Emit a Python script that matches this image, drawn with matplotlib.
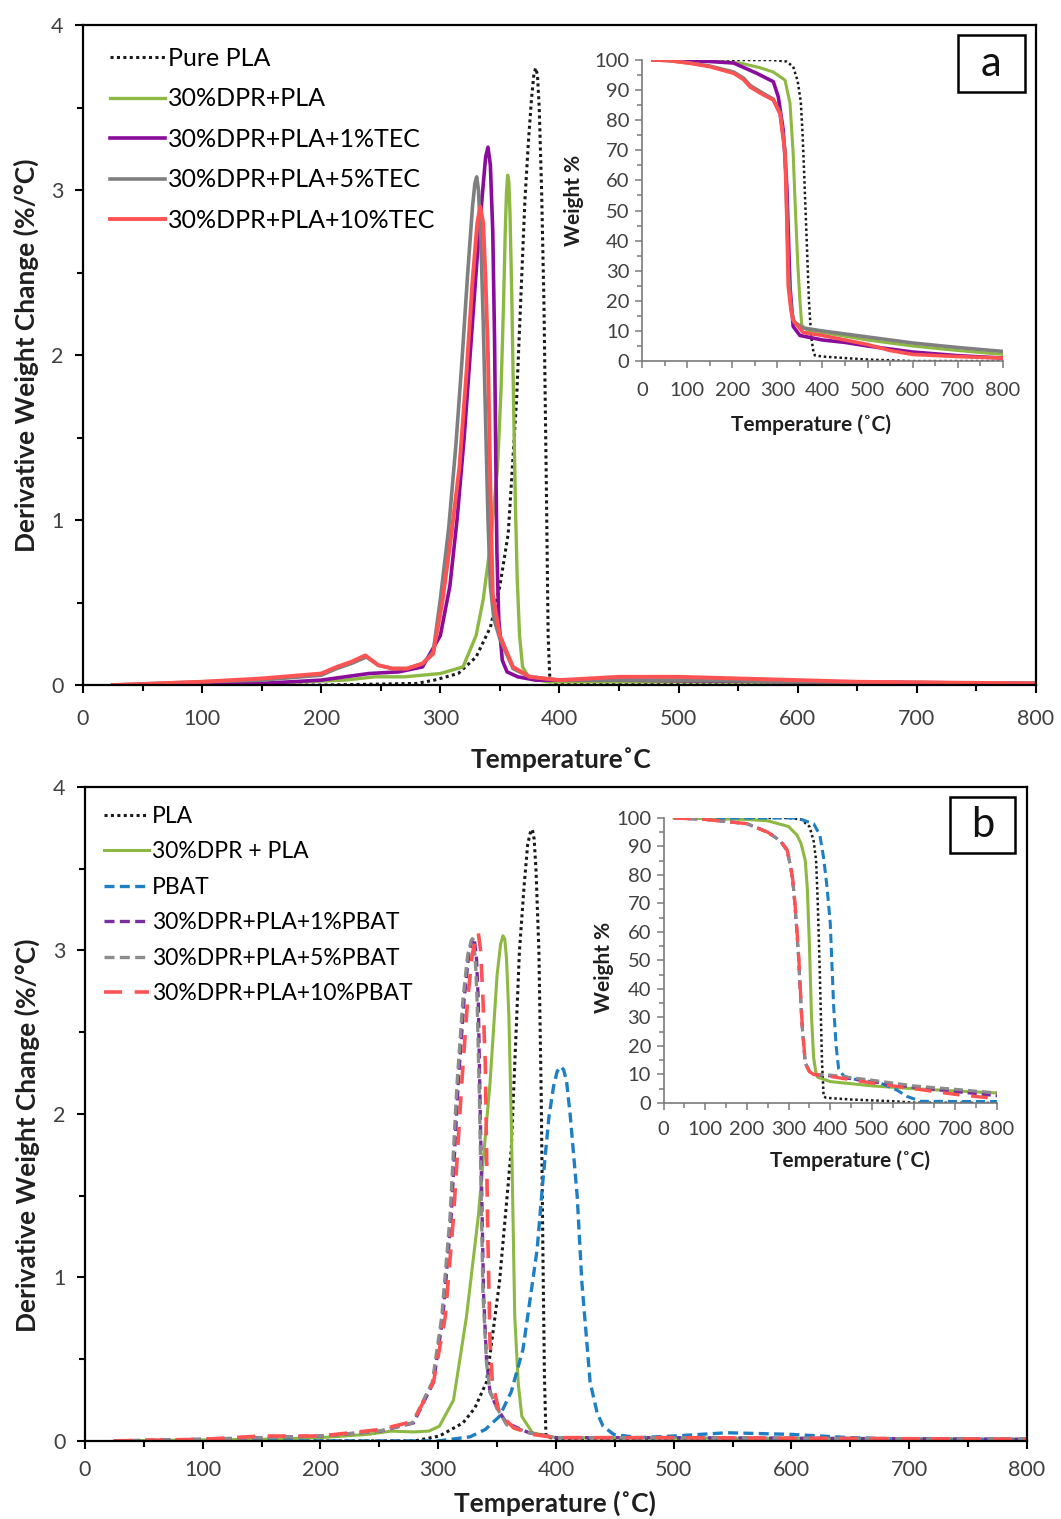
import matplotlib
matplotlib.use("Agg")
import matplotlib.pyplot as plt
from matplotlib.patches import Rectangle
from matplotlib.ticker import MultipleLocator

plt.rcParams['font.family'] = ['Lato', 'DejaVu Sans']

# ---------------- panel a : DTG (main) ----------------
pla_a_T = [25, 200, 280, 295, 315, 330, 342, 350, 357, 364, 371, 374, 376.5, 378.5, 380, 381.5, 383, 385, 387, 389, 390.5, 392, 400, 800]
pla_a_y = [0, 0, 0.01, 0.03, 0.07, 0.17, 0.35, 0.6, 0.92, 1.73, 2.94, 3.3, 3.55, 3.7, 3.74, 3.7, 3.5, 3.0, 2.3, 1.2, 0.3, 0.02, 0.01, 0.005]

green_a_T = [25, 150, 220, 245, 270, 300, 319, 330, 336, 342, 348, 351, 353, 354.5, 355.5, 356.5, 357.5, 358.5, 360, 361.5, 363, 364.5, 366.5, 369, 375, 390, 500, 800]
green_a_y = [0, 0.01, 0.03, 0.05, 0.05, 0.07, 0.11, 0.3, 0.52, 0.85, 1.32, 1.8, 2.3, 2.75, 2.98, 3.09, 3.05, 2.85, 2.35, 1.7, 1.1, 0.65, 0.3, 0.11, 0.04, 0.02, 0.02, 0.01]

purple_a_T = [25, 150, 200, 240, 265, 285, 300, 308, 314, 320, 326, 331, 335, 338, 340, 342, 344, 345.5, 346.5, 347.5, 349, 352, 356, 365, 380, 450, 600, 800]
purple_a_y = [0, 0.01, 0.03, 0.07, 0.08, 0.11, 0.3, 0.6, 1.0, 1.5, 2.1, 2.6, 2.95, 3.2, 3.26, 3.15, 2.75, 2.1, 1.4, 0.8, 0.4, 0.15, 0.08, 0.05, 0.03, 0.03, 0.02, 0.01]

gray_a_T = [25, 100, 150, 200, 213, 225, 238, 248, 260, 272, 285, 294, 300, 307, 313, 318, 323, 327, 329, 330.5, 332, 334, 336, 338, 340, 342, 345, 350, 361, 375, 400, 500, 600, 800]
gray_a_y = [0, 0.02, 0.03, 0.06, 0.1, 0.13, 0.17, 0.12, 0.1, 0.1, 0.13, 0.2, 0.52, 0.95, 1.45, 1.95, 2.5, 2.9, 3.04, 3.08, 3.0, 2.7, 2.2, 1.6, 1.0, 0.6, 0.4, 0.28, 0.1, 0.05, 0.03, 0.03, 0.02, 0.01]

red_a_T = [25, 100, 150, 200, 213, 225, 237, 248, 260, 272, 285, 294, 302, 309, 316, 322, 327, 331, 333.5, 336, 338, 340, 342, 344, 350, 361, 375, 400, 450, 500, 550, 600, 650, 800]
red_a_y = [0, 0.02, 0.04, 0.07, 0.11, 0.14, 0.18, 0.12, 0.1, 0.1, 0.13, 0.19, 0.52, 0.9, 1.32, 1.9, 2.45, 2.8, 2.9, 2.8, 2.45, 2.0, 1.2, 0.55, 0.3, 0.11, 0.05, 0.03, 0.05, 0.05, 0.04, 0.03, 0.02, 0.01]

# ---------------- panel a : TGA (inset) ----------------
pla_a_tga_T = [25, 290, 320, 335, 345, 352, 356, 360, 365, 370, 375, 380, 383, 400, 500, 600, 800]
pla_a_tga_w = [100, 100, 99.5, 97.8, 93, 86, 75, 60, 40, 20, 8, 3, 1.9, 1.5, 0.5, 0, 0]

green_a_tga_T = [25, 120, 217, 260, 291, 317, 328, 335, 340, 345, 350, 354, 360, 370, 400, 500, 600, 700, 800]
green_a_tga_w = [100, 100, 99, 97.5, 96, 93.3, 85.6, 69, 50, 33, 20, 12, 11, 10, 9.5, 7, 5, 3.5, 2.2]

purple_a_tga_T = [25, 100, 150, 203, 254, 291, 302, 313, 321, 328, 335, 350, 400, 450, 500, 600, 700, 800]
purple_a_tga_w = [100, 99.8, 99.5, 99, 95.6, 92.8, 87.8, 76.7, 57.9, 24.8, 11.5, 8.5, 7, 6.2, 5, 3, 1.8, 1]

gray_a_tga_T = [25, 60, 107, 150, 203, 225, 240, 262, 291, 306, 317, 321, 325, 331, 337, 357, 400, 500, 600, 700, 800]
gray_a_tga_w = [100, 99.8, 99, 98, 96, 94, 91.5, 89.5, 87, 82.5, 70, 50, 28, 17, 13, 11, 10, 8, 6, 4.5, 3.2]

red_a_tga_T = [25, 60, 107, 150, 203, 225, 240, 262, 291, 306, 317, 321, 324, 330, 335, 357, 400, 500, 550, 600, 700, 800]
red_a_tga_w = [100, 99.8, 98.9, 97.8, 95.6, 93.5, 91, 89, 86.7, 82, 69, 47, 25, 17, 13.5, 9.5, 8.5, 5.5, 3.5, 2.2, 1.5, 1]

# ---------------- panel b : DTG (main) ----------------
pla_b_T = [25, 280, 301, 321, 331, 341, 352, 362, 369, 373, 376, 378.5, 380, 381.5, 383, 385.5, 387.5, 389, 390.2, 391.5, 400, 800]
pla_b_y = [0, 0.0, 0.03, 0.11, 0.2, 0.36, 0.97, 1.78, 3.0, 3.4, 3.65, 3.73, 3.74, 3.68, 3.5, 3.0, 2.1, 1.1, 0.4, 0.03, 0.01, 0.005]

green_b_T = [25, 150, 200, 240, 260, 279, 292, 301, 313, 324, 334, 344, 350, 353, 355, 356.5, 358, 360, 362, 365, 368, 371, 380, 400, 800]
green_b_y = [0, 0.01, 0.02, 0.04, 0.06, 0.055, 0.06, 0.09, 0.25, 0.76, 1.37, 2.19, 2.85, 3.04, 3.09, 3.07, 2.95, 2.6, 1.98, 0.76, 0.35, 0.15, 0.05, 0.02, 0.01]

pbat_T = [25, 300, 327, 340, 352, 362, 372, 384, 389, 394, 398, 401, 404, 406.5, 409, 412, 418, 422, 429, 435, 440, 449, 470, 500, 545, 600, 650, 700, 800]
pbat_y = [0, 0.0, 0.025, 0.07, 0.15, 0.3, 0.56, 1.17, 1.6, 1.98, 2.17, 2.26, 2.29, 2.27, 2.2, 2.0, 1.5, 0.97, 0.36, 0.17, 0.09, 0.04, 0.02, 0.03, 0.05, 0.04, 0.02, 0.01, 0.01]

purple_b_T = [25, 100, 150, 200, 251, 279, 296, 304, 311, 317, 322, 326, 329, 330.5, 332.5, 334, 335.5, 337, 338.5, 341, 344, 350, 358, 377, 400, 500, 800]
purple_b_y = [0, 0.01, 0.02, 0.03, 0.06, 0.11, 0.36, 0.76, 1.37, 2.19, 2.7, 2.98, 3.07, 3.08, 2.95, 2.7, 2.09, 1.5, 0.9, 0.5, 0.3, 0.2, 0.11, 0.05, 0.02, 0.02, 0.01]

gray_b_T = [25, 100, 150, 200, 250, 278, 295, 303, 310, 316, 321, 325, 328, 329.5, 331.5, 333, 335, 336.5, 338, 341, 344, 350, 358, 377, 400, 500, 800]
gray_b_y = [0, 0.01, 0.02, 0.03, 0.06, 0.11, 0.36, 0.76, 1.37, 2.19, 2.7, 2.97, 3.06, 3.07, 2.95, 2.7, 2.09, 1.5, 0.9, 0.48, 0.3, 0.2, 0.1, 0.05, 0.02, 0.02, 0.01]

red_b_T = [25, 100, 150, 200, 251, 279, 296, 306, 313, 320, 325, 329, 332, 334, 336, 338, 340, 342, 344, 346, 352, 364, 380, 400, 500, 800]
red_b_y = [0, 0.01, 0.03, 0.03, 0.07, 0.12, 0.36, 0.76, 1.37, 2.19, 2.7, 2.98, 3.08, 3.11, 3.0, 2.7, 2.3, 1.3, 0.6, 0.36, 0.17, 0.08, 0.04, 0.02, 0.02, 0.01]

# ---------------- panel b : TGA (inset) ----------------
pla_b_tga_T = [25, 300, 330, 350, 360, 366, 370, 375, 380, 384, 390, 450, 550, 600, 800]
pla_b_tga_w = [100, 100, 99.5, 97, 92, 85, 70, 45, 15, 2.3, 1.8, 1.2, 0.6, 0.1, 0]

green_b_tga_T = [25, 200, 250, 300, 320, 330, 340, 345, 350, 355, 360, 365, 370, 400, 500, 600, 700, 800]
green_b_tga_w = [100, 99.5, 99, 97, 94, 91, 85, 75, 55, 30, 16, 11, 9, 7.5, 6, 5, 4.2, 3.5]

pbat_tga_T = [25, 320, 360, 375, 384, 392, 400, 408, 414, 420, 432, 450, 520, 560, 584, 616, 700, 800]
pbat_tga_w = [100, 100, 98, 94, 86, 76, 63, 34, 20, 12, 9.5, 8.5, 7, 4.5, 2.3, 0.6, 0.5, 0.5]

purple_b_tga_T = [25, 100, 200, 250, 280, 296, 305, 312, 318, 324, 332, 340, 350, 360, 400, 500, 600, 700, 800]
purple_b_tga_w = [100, 99.5, 98, 95, 92, 88.7, 83, 75, 64, 51, 28, 14, 11, 10, 9.5, 7.5, 5.5, 4, 2.5]

gray_b_tga_T = [25, 100, 200, 250, 280, 296, 305, 312, 318, 324, 332, 340, 350, 360, 400, 500, 600, 700, 800]
gray_b_tga_w = [100, 99.5, 98, 95, 92, 88.5, 83, 75, 64, 51, 28, 14, 11, 10, 9.8, 8, 6, 4.8, 3.5]

red_b_tga_T = [25, 100, 200, 250, 280, 296, 305, 312, 318, 324, 332, 340, 350, 360, 400, 500, 600, 700, 800]
red_b_tga_w = [100, 99.5, 98, 95, 92, 89, 83.5, 76, 65, 52, 29, 14, 11, 10, 9.3, 7, 5, 3, 1.5]

labels_a = ["Pure PLA", "30%DPR+PLA", "30%DPR+PLA+1%TEC", "30%DPR+PLA+5%TEC", "30%DPR+PLA+10%TEC"]
labels_b = ["PLA", "30%DPR + PLA", "PBAT", "30%DPR+PLA+1%PBAT", "30%DPR+PLA+5%PBAT", "30%DPR+PLA+10%PBAT"]

GREEN = '#8DB843'
PURPLE = '#8A0C9C'
GRAY = '#7F7F7F'
RED = '#FF5252'
BLUE = '#1F7FC4'
PURPLE_B = '#7A2E9E'
GRAY_B = '#8C8C8C'
DOT = (0, (1, 1.1))
SHORT_DASH = (0, (3, 1.6))
LONG_DASH = (0, (5, 3.5))
TICK_C = '#404040'
LABEL_C = '#1f1f1f'


def style_main(ax, xpad):
    ax.set_xlim(0, 800)
    ax.set_ylim(0, 4)
    ax.xaxis.set_major_locator(MultipleLocator(100))
    ax.xaxis.set_minor_locator(MultipleLocator(50))
    ax.yaxis.set_major_locator(MultipleLocator(1))
    ax.yaxis.set_minor_locator(MultipleLocator(0.5))
    for s in ax.spines.values():
        s.set_linewidth(1.6)
        s.set_color('black')
    ax.tick_params(which='major', direction='out', length=6, width=1.5,
                   labelsize=15.5, labelcolor=TICK_C)
    ax.tick_params(which='minor', direction='out', length=4, width=1.5)
    ax.tick_params(axis='x', which='major', pad=xpad)
    ax.tick_params(axis='y', which='major', pad=8)


def style_inset(ax, xpad):
    ax.set_xlim(0, 800)
    ax.set_ylim(0, 100)
    ax.xaxis.set_major_locator(MultipleLocator(100))
    ax.xaxis.set_minor_locator(MultipleLocator(50))
    ax.yaxis.set_major_locator(MultipleLocator(10))
    ax.yaxis.set_minor_locator(MultipleLocator(5))
    ax.spines['top'].set_visible(False)
    ax.spines['right'].set_visible(False)
    for side in ('left', 'bottom'):
        ax.spines[side].set_color('#7a7a7a')
        ax.spines[side].set_linewidth(1.2)
    ax.tick_params(which='both', direction='out', colors='#7a7a7a',
                   labelcolor=TICK_C, labelsize=14.5, width=1.1)
    ax.tick_params(which='major', length=5)
    ax.tick_params(which='minor', length=3.5)
    ax.tick_params(axis='x', which='major', pad=xpad)
    ax.tick_params(axis='y', which='major', pad=4)
    ax.set_facecolor('none')


def label_box(x0, y0, x1, y1, letter):
    # box given in pixel coordinates of the 1061x1519 canvas
    W, H = 1061.0, 1519.0
    fig.patches.append(Rectangle((x0 / W, 1 - y1 / H), (x1 - x0) / W, (y1 - y0) / H,
                                 transform=fig.transFigure, fc='white', ec='black', lw=1.8))
    fig.text((x0 + x1) / 2 / W, 1 - (y0 + y1) / 2 / H, letter, fontsize=30,
             ha='center', va='center', color='#111111')


fig = plt.figure(figsize=(10.61, 15.19), dpi=100)

# ===================== panel a =====================
ax1 = fig.add_axes([0.0782, 0.549, 0.8982, 0.4345])
ax1.plot(pla_a_T, pla_a_y, color='#1a1a1a', lw=2.2, ls=DOT, label=labels_a[0])
ax1.plot(green_a_T, green_a_y, color=GREEN, lw=2.4, label=labels_a[1])
ax1.plot(purple_a_T, purple_a_y, color=PURPLE, lw=2.6, label=labels_a[2])
ax1.plot(gray_a_T, gray_a_y, color=GRAY, lw=2.6, label=labels_a[3])
ax1.plot(red_a_T, red_a_y, color=RED, lw=2.8, label=labels_a[4])
style_main(ax1, 11)
ax1.set_ylabel("Derivative Weight Change (%/°C)", fontsize=19, fontweight='bold', color=LABEL_C)
ax1.yaxis.set_label_coords(-0.046, 0.5)
ax1.set_xlabel("Temperature˚C", fontsize=19, fontweight='bold', color=LABEL_C)
ax1.xaxis.set_label_coords(0.5016, -0.094)
ax1.legend(loc='upper left', bbox_to_anchor=(0.018, 0.982), frameon=False, fontsize=18,
           handlelength=2.2, handletextpad=0.1, labelspacing=0.7, borderaxespad=0)

ins1 = fig.add_axes([0.6051, 0.7623, 0.3402, 0.1982])
ins1.plot(pla_a_tga_T, pla_a_tga_w, color='#1a1a1a', lw=1.8, ls=DOT)
ins1.plot(green_a_tga_T, green_a_tga_w, color=GREEN, lw=2.2)
ins1.plot(purple_a_tga_T, purple_a_tga_w, color=PURPLE, lw=2.6)
ins1.plot(gray_a_tga_T, gray_a_tga_w, color=GRAY, lw=2.6)
ins1.plot(red_a_tga_T, red_a_tga_w, color=RED, lw=2.6)
style_inset(ins1, 10)
ins1.set_ylabel("Weight %", fontsize=15, fontweight='bold', color=LABEL_C)
ins1.yaxis.set_label_coords(-0.161, 0.535)
ins1.set_xlabel("Temperature (˚C)", fontsize=15, fontweight='bold', color=LABEL_C)
ins1.xaxis.set_label_coords(0.468, -0.176)

label_box(958, 35, 1025, 92, "a")

# ===================== panel b =====================
ax2 = fig.add_axes([0.0801, 0.0514, 0.8878, 0.4305])
ax2.plot(pla_b_T, pla_b_y, color='#1a1a1a', lw=2.2, ls=DOT, label=labels_b[0])
ax2.plot(green_b_T, green_b_y, color=GREEN, lw=2.2, label=labels_b[1])
ax2.plot(pbat_T, pbat_y, color=BLUE, lw=2.4, ls=SHORT_DASH, label=labels_b[2])
ax2.plot(purple_b_T, purple_b_y, color=PURPLE_B, lw=2.4, ls=SHORT_DASH, label=labels_b[3])
ax2.plot(gray_b_T, gray_b_y, color=GRAY_B, lw=2.4, ls=SHORT_DASH, label=labels_b[4])
ax2.plot(red_b_T, red_b_y, color=RED, lw=2.6, ls=LONG_DASH, label=labels_b[5])
style_main(ax2, 8)
ax2.set_ylabel("Derivative Weight Change (%/°C)", fontsize=19, fontweight='bold', color=LABEL_C)
ax2.yaxis.set_label_coords(-0.048, 0.468)
ax2.set_xlabel("Temperature (˚C)", fontsize=19, fontweight='bold', color=LABEL_C)
ax2.xaxis.set_label_coords(0.499, -0.0765)
ax2.legend(loc='upper left', bbox_to_anchor=(0.01, 0.985), frameon=False, fontsize=16.5,
           handlelength=2.0, handletextpad=0.1, labelspacing=0.63, borderaxespad=0)

ins2 = fig.add_axes([0.6254, 0.2739, 0.3143, 0.1876])
ins2.plot(pla_b_tga_T, pla_b_tga_w, color='#1a1a1a', lw=1.8, ls=DOT)
ins2.plot(green_b_tga_T, green_b_tga_w, color=GREEN, lw=2.2)
ins2.plot(pbat_tga_T, pbat_tga_w, color=BLUE, lw=2.2, ls=SHORT_DASH)
ins2.plot(purple_b_tga_T, purple_b_tga_w, color=PURPLE_B, lw=2.2, ls=SHORT_DASH)
ins2.plot(gray_b_tga_T, gray_b_tga_w, color=GRAY_B, lw=2.2, ls=SHORT_DASH)
ins2.plot(red_b_tga_T, red_b_tga_w, color=RED, lw=2.4, ls=LONG_DASH)
style_inset(ins2, 8)
ins2.set_ylabel("Weight %", fontsize=15, fontweight='bold', color=LABEL_C)
ins2.yaxis.set_label_coords(-0.148, 0.474)
ins2.set_xlabel("Temperature (˚C)", fontsize=15, fontweight='bold', color=LABEL_C)
ins2.xaxis.set_label_coords(0.559, -0.165)

label_box(950, 797, 1015, 853, "b")

fig.savefig("out.png", dpi=100, facecolor='white')
